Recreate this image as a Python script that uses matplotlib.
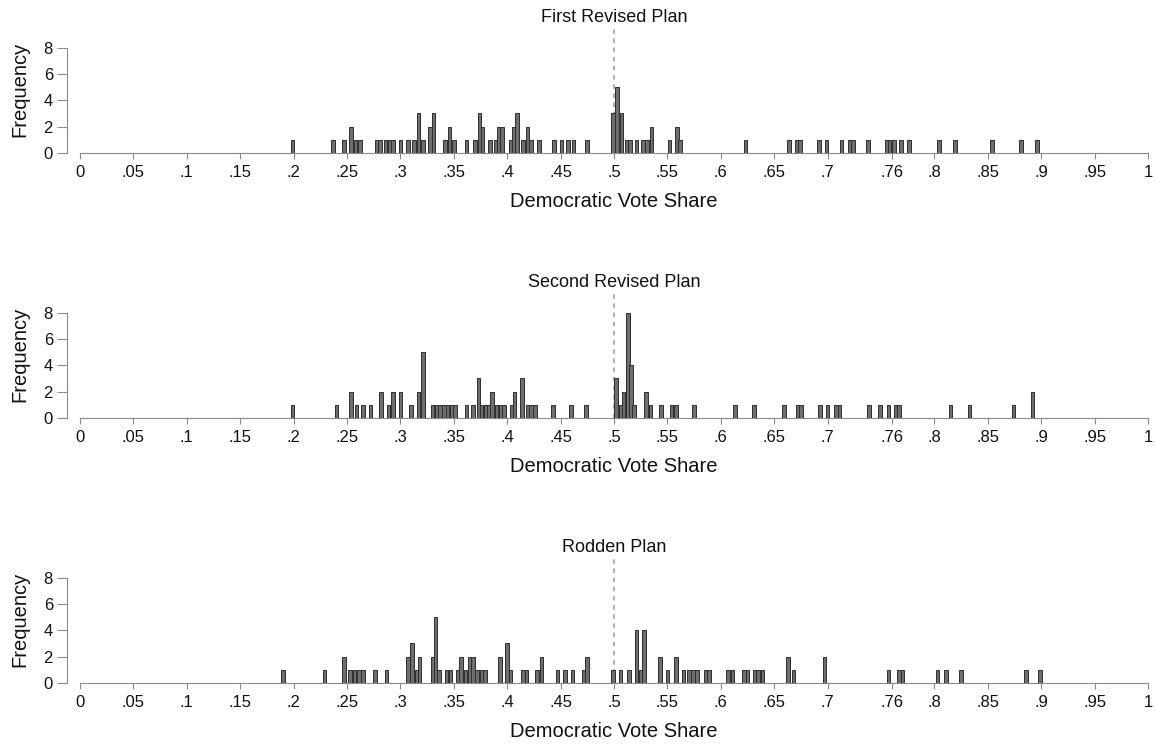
import matplotlib
matplotlib.use("Agg")
import matplotlib.pyplot as plt

# Bar centers (Democratic vote share) and district counts
first_share = [0.199, 0.237, 0.247, 0.254, 0.258, 0.262, 0.278, 0.281, 0.286, 0.290,
               0.293, 0.300, 0.307, 0.313, 0.317, 0.321, 0.328, 0.331, 0.342, 0.346,
               0.350, 0.362, 0.370, 0.374, 0.377, 0.384, 0.389, 0.392, 0.395, 0.403,
               0.406, 0.409, 0.415, 0.419, 0.422, 0.430, 0.444, 0.451, 0.457, 0.462,
               0.475, 0.499, 0.503, 0.507, 0.512, 0.515, 0.521, 0.527, 0.531, 0.535,
               0.552, 0.559, 0.562, 0.623, 0.664, 0.671, 0.674, 0.692, 0.699, 0.713,
               0.721, 0.724, 0.738, 0.755, 0.758, 0.762, 0.769, 0.776, 0.804, 0.819,
               0.854, 0.881, 0.896]
first_freq = [1, 1, 1, 2, 1, 1, 1, 1, 1, 1,
              1, 1, 1, 1, 3, 1, 2, 3, 1, 2,
              1, 1, 1, 3, 2, 1, 1, 2, 2, 1,
              2, 3, 1, 2, 1, 1, 1, 1, 1, 1,
              1, 3, 5, 3, 1, 1, 1, 1, 1, 2,
              1, 2, 1, 1, 1, 1, 1, 1, 1, 1,
              1, 1, 1, 1, 1, 1, 1, 1, 1, 1,
              1, 1, 1]

second_share = [0.199, 0.240, 0.254, 0.259, 0.265, 0.272, 0.282, 0.289, 0.293, 0.300,
                0.310, 0.317, 0.321, 0.330, 0.334, 0.337, 0.341, 0.344, 0.348, 0.351,
                0.362, 0.368, 0.373, 0.376, 0.380, 0.383, 0.386, 0.390, 0.394, 0.397,
                0.404, 0.407, 0.414, 0.419, 0.422, 0.426, 0.443, 0.460, 0.474, 0.502,
                0.506, 0.509, 0.513, 0.516, 0.519, 0.530, 0.534, 0.544, 0.554, 0.558,
                0.575, 0.613, 0.631, 0.659, 0.672, 0.675, 0.693, 0.700, 0.708, 0.711,
                0.739, 0.749, 0.757, 0.764, 0.767, 0.815, 0.833, 0.874, 0.892]
second_freq = [1, 1, 2, 1, 1, 1, 2, 1, 2, 2,
               1, 2, 5, 1, 1, 1, 1, 1, 1, 1,
               1, 1, 3, 1, 1, 1, 2, 1, 1, 1,
               1, 2, 3, 1, 1, 1, 1, 1, 1, 3,
               1, 2, 8, 4, 1, 2, 1, 1, 1, 1,
               1, 1, 1, 1, 1, 1, 1, 1, 1, 1,
               1, 1, 1, 1, 1, 1, 1, 1, 2]

rodden_share = [0.190, 0.229, 0.247, 0.253, 0.257, 0.261, 0.265, 0.276, 0.287, 0.307,
                0.311, 0.315, 0.318, 0.330, 0.333, 0.336, 0.343, 0.347, 0.354, 0.357,
                0.361, 0.365, 0.368, 0.372, 0.376, 0.379, 0.393, 0.400, 0.403, 0.415,
                0.418, 0.428, 0.432, 0.447, 0.454, 0.461, 0.472, 0.475, 0.499, 0.506,
                0.514, 0.521, 0.525, 0.528, 0.543, 0.550, 0.558, 0.565, 0.570, 0.574,
                0.578, 0.586, 0.589, 0.607, 0.611, 0.622, 0.625, 0.632, 0.635, 0.639,
                0.663, 0.668, 0.697, 0.757, 0.767, 0.770, 0.803, 0.811, 0.825, 0.886,
                0.899]
rodden_freq = [1, 1, 2, 1, 1, 1, 1, 1, 1, 2,
               3, 1, 2, 2, 5, 1, 1, 1, 1, 2,
               1, 2, 2, 1, 1, 1, 2, 3, 1, 1,
               1, 1, 2, 1, 1, 1, 1, 2, 1, 1,
               1, 4, 1, 4, 2, 1, 2, 1, 1, 1,
               1, 1, 1, 1, 1, 1, 1, 1, 1, 1,
               2, 1, 2, 1, 1, 1, 1, 1, 1, 1,
               1]

titles = ["First Revised Plan", "Second Revised Plan", "Rodden Plan"]
xtick_pos = [0, .05, .1, .15, .2, .25, .3, .35, .4, .45, .5, .55, .6, .65, .7, .76,
             .8, .85, .9, .95, 1]
xtick_labels = ["0", ".05", ".1", ".15", ".2", ".25", ".3", ".35", ".4", ".45", ".5",
                ".55", ".6", ".65", ".7", ".76", ".8", ".85", ".9", ".95", "1"]
ytick_pos = [0, 2, 4, 6, 8]

plt.rcParams["font.family"] = ["Liberation Sans", "DejaVu Sans"]

fig = plt.figure(figsize=(11.56, 7.44), dpi=100)
bottoms = [0.7944, 0.4382, 0.082]
panels = [(first_share, first_freq), (second_share, second_freq), (rodden_share, rodden_freq)]

axis_grey = "#8a8a8a"
for title, bottom, (share, freq) in zip(titles, bottoms, panels):
    ax = fig.add_axes([0.0692, bottom, 0.9239, 0.17])
    ax.bar(share, freq, width=0.0034, color="#6e6e6e", edgecolor="#2e2e2e",
           linewidth=0.7, zorder=3)
    ax.axvline(0.5, color="#9a9a9a", linestyle=(0, (3, 3)), linewidth=1.1, zorder=2)

    ax.set_xlim(0, 1)
    ax.set_ylim(0, 9.6)
    ax.set_xticks(xtick_pos)
    ax.set_xticklabels(xtick_labels)
    ax.set_yticks(ytick_pos)

    for side in ("top", "right"):
        ax.spines[side].set_visible(False)
    ax.spines["left"].set_position(("outward", 9.5))
    ax.spines["left"].set_bounds(0, 8)
    ax.spines["left"].set_color(axis_grey)
    ax.spines["bottom"].set_color(axis_grey)
    ax.spines["bottom"].set_bounds(0, 1)

    ax.tick_params(axis="x", colors=axis_grey, labelcolor="#111111", length=4,
                   pad=5, labelsize=12)
    ax.tick_params(axis="y", colors=axis_grey, labelcolor="#111111", length=7,
                   pad=3, labelsize=12)

    ax.set_xlabel("Democratic Vote Share", fontsize=14.5, labelpad=8, color="#111111")
    ax.set_ylabel("Frequency", fontsize=14.5, labelpad=10, color="#111111")
    ax.set_title(title, fontsize=13, pad=3, color="#111111")

fig.savefig("out.png", dpi=100)
